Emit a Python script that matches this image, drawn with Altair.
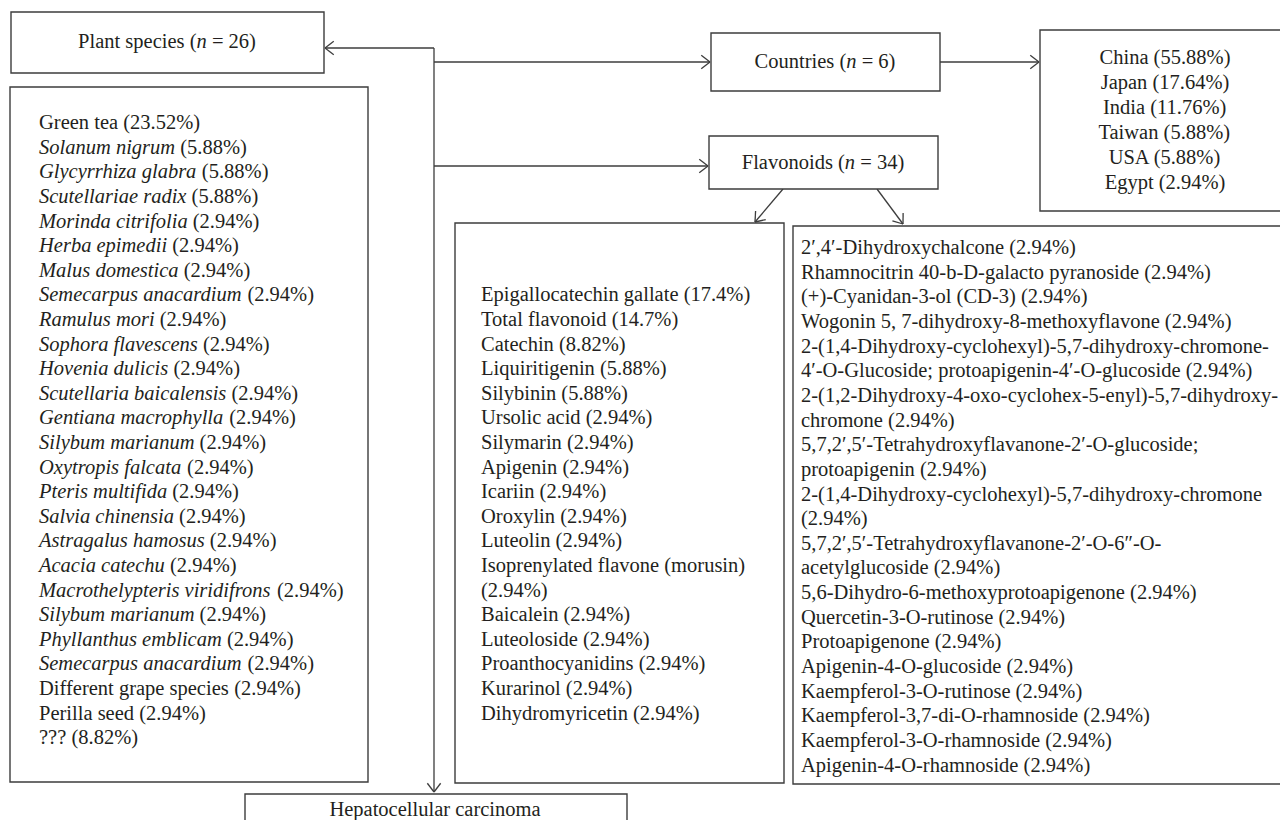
import math
import altair as alt
import pandas as pd

# ---------------- data ----------------
plant_names = ["Green tea", "Solanum nigrum", "Glycyrrhiza glabra", "Scutellariae radix",
               "Morinda citrifolia", "Herba epimedii", "Malus domestica", "Semecarpus anacardium",
               "Ramulus mori", "Sophora flavescens", "Hovenia dulicis", "Scutellaria baicalensis",
               "Gentiana macrophylla", "Silybum marianum", "Oxytropis falcata", "Pteris multifida",
               "Salvia chinensia", "Astragalus hamosus", "Acacia catechu",
               "Macrothelypteris viridifrons", "Silybum marianum", "Phyllanthus emblicam",
               "Semecarpus anacardium", "Different grape species", "Perilla seed", "???"]
plant_italic = [False] + [True] * 22 + [False, False, False]
plant_pct = ["23.52%", "5.88%", "5.88%", "5.88%"] + ["2.94%"] * 21 + ["8.82%"]

countries = ["China", "Japan", "India", "Taiwan", "USA", "Egypt"]
country_pct = ["55.88%", "17.64%", "11.76%", "5.88%", "5.88%", "2.94%"]

flav_main = ["Epigallocatechin gallate (17.4%)", "Total flavonoid (14.7%)", "Catechin (8.82%)",
             "Liquiritigenin (5.88%)", "Silybinin (5.88%)", "Ursolic acid (2.94%)",
             "Silymarin (2.94%)", "Apigenin (2.94%)", "Icariin (2.94%)", "Oroxylin (2.94%)",
             "Luteolin (2.94%)", "Isoprenylated flavone (morusin)", "(2.94%)",
             "Baicalein (2.94%)", "Luteoloside (2.94%)", "Proanthocyanidins (2.94%)",
             "Kurarinol (2.94%)", "Dihydromyricetin (2.94%)"]

flav_other = ["2\u2032,4\u2032-Dihydroxychalcone (2.94%)",
              "Rhamnocitrin 40-b-D-galacto pyranoside (2.94%)",
              "(+)-Cyanidan-3-ol (CD-3) (2.94%)",
              "Wogonin 5, 7-dihydroxy-8-methoxyflavone (2.94%)",
              "2-(1,4-Dihydroxy-cyclohexyl)-5,7-dihydroxy-chromone-",
              "4\u2032-O-Glucoside; protoapigenin-4\u2032-O-glucoside (2.94%)",
              "2-(1,2-Dihydroxy-4-oxo-cyclohex-5-enyl)-5,7-dihydroxy-",
              "chromone (2.94%)",
              "5,7,2\u2032,5\u2032-Tetrahydroxyflavanone-2\u2032-O-glucoside;",
              "protoapigenin (2.94%)",
              "2-(1,4-Dihydroxy-cyclohexyl)-5,7-dihydroxy-chromone",
              "(2.94%)",
              "5,7,2\u2032,5\u2032-Tetrahydroxyflavanone-2\u2032-O-6\u2033-O-",
              "acetylglucoside (2.94%)",
              "5,6-Dihydro-6-methoxyprotoapigenone (2.94%)",
              "Quercetin-3-O-rutinose (2.94%)",
              "Protoapigenone (2.94%)",
              "Apigenin-4-O-glucoside (2.94%)",
              "Kaempferol-3-O-rutinose (2.94%)",
              "Kaempferol-3,7-di-O-rhamnoside (2.94%)",
              "Kaempferol-3-O-rhamnoside (2.94%)",
              "Apigenin-4-O-rhamnoside (2.94%)"]

# header labels: (pieces as (text, italic))
hdr_plant = [("Plant species (", False), ("n", True), (" = 26)", False)]
hdr_country = [("Countries (", False), ("n", True), (" = 6)", False)]
hdr_flav = [("Flavonoids (", False), ("n", True), (" = 34)", False)]
hdr_hcc = [("Hepatocellular carcinoma", False)]

# ---------------- layout (reference pixel space) ----------------
FS = 20.5
FONT = "Liberation Serif"
INK = "#231f20"
LINE = "#3d3d3d"

boxes = {
    "plant_hdr": (11, 12, 324, 73),
    "plant_list": (10, 87, 368, 782),
    "countries": (711, 33, 940, 91),
    "country_list": (1040, 30, 1310, 211),
    "flav": (709, 136, 938, 189),
    "flav_main": (455, 223, 784, 783),
    "flav_other": (793, 226, 1310, 784),
    "hcc": (245, 794, 627, 860),
}

# approximate Times metrics (per 1000 em) for laying out mixed-style runs
ROMAN = dict(zip(" !\"#$%&'()*+,-./0123456789:;<=>?@",
                 [250, 333, 408, 500, 500, 833, 778, 333, 333, 333, 500, 564, 250, 333, 250, 278,
                  500, 500, 500, 500, 500, 500, 500, 500, 500, 500, 278, 278, 564, 564, 564, 444, 921]))
ROMAN.update(dict(zip("ABCDEFGHIJKLMNOPQRSTUVWXYZ",
                      [722, 667, 667, 722, 611, 556, 722, 722, 333, 389, 722, 611, 889, 722, 722, 556,
                       722, 667, 556, 611, 722, 722, 944, 722, 722, 611])))
ROMAN.update(dict(zip("abcdefghijklmnopqrstuvwxyz",
                      [444, 500, 444, 500, 444, 333, 500, 500, 278, 278, 500, 278, 778, 500, 500, 500,
                       500, 333, 389, 278, 500, 500, 722, 500, 500, 444])))
ITALIC = dict(ROMAN)
ITALIC.update(dict(zip("ABCDEFGHIJKLMNOPQRSTUVWXYZ",
                       [611, 611, 667, 722, 611, 611, 722, 722, 333, 444, 667, 556, 833, 667, 722, 611,
                        722, 611, 500, 556, 722, 611, 833, 611, 556, 556])))
ITALIC.update(dict(zip("abcdefghijklmnopqrstuvwxyz",
                       [500, 500, 444, 500, 444, 278, 500, 500, 278, 278, 444, 278, 722, 500, 500, 500,
                        500, 389, 389, 278, 500, 444, 667, 444, 444, 389])))


def tw(s, italic, fs):
    t = ITALIC if italic else ROMAN
    return sum(t.get(c, 500) for c in s) / 1000.0 * fs


texts = []


def add_run(pieces, x, y, align="left", fs=FS):
    total = sum(tw(p, it, fs) for p, it in pieces)
    cx = x - total / 2 if align == "center" else x
    for p, it in pieces:
        lead = len(p) - len(p.lstrip(" "))
        trail = len(p) - len(p.rstrip(" "))
        core = p.strip(" ")
        cx += lead * tw(" ", it, fs)
        texts.append({"x": cx, "y": y, "t": core,
                      "style": "italic" if it else "normal", "fs": fs})
        cx += tw(core, it, fs) + trail * tw(" ", it, fs)


add_run(hdr_plant, 167, 42, "center")
add_run(hdr_country, 825, 62, "center")
add_run(hdr_flav, 823, 163, "center")
add_run(hdr_hcc, 435, 810, "center")

for i, (c, p) in enumerate(zip(countries, country_pct)):
    add_run([(f"{c} ({p})", False)], 1165, 58 + 24.9 * i, "center")

STEP = 24.6
for i, (n, it, p) in enumerate(zip(plant_names, plant_italic, plant_pct)):
    add_run([(n, it), (f" ({p})", False)], 39, 566 + STEP * (i - 18))

for i, s in enumerate(flav_main):
    add_run([(s, False)], 481, 566 + STEP * (i - 11))

for i, s in enumerate(flav_other):
    add_run([(s, False)], 801, 248 + 24.65 * i, fs=20.5)

# connector lines and arrow tips
segments = [
    ((434, 48), (325, 48), True),
    ((434, 48), (434, 792), True),
    ((434, 62), (710, 62), True),
    ((434, 166), (708, 166), True),
    ((940, 62), (1039, 62), True),
    ((783, 189), (755, 222), True),
    ((877, 189), (903, 224), True),
]
segs = []
for (x1, y1), (x2, y2), head in segments:
    segs.append({"x": x1, "y": y1, "x2": x2, "y2": y2})
    if head:
        ang = math.atan2(y1 - y2, x1 - x2)
        for d in (-0.65, 0.65):
            segs.append({"x": x2, "y": y2,
                         "x2": x2 + 11 * math.cos(ang + d),
                         "y2": y2 + 11 * math.sin(ang + d)})

box_df = pd.DataFrame([{"name": k, "x": v[0], "y": v[1], "x2": v[2], "y2": v[3]}
                       for k, v in boxes.items()])
seg_df = pd.DataFrame(segs)
txt_df = pd.DataFrame(texts)

W, H = 1272, 812
xs = alt.Scale(domain=[8, 8 + W], nice=False, zero=False)
ys = alt.Scale(domain=[8, 8 + H], nice=False, zero=False, reverse=True)

rects = alt.Chart(box_df).mark_rect(fill="white", stroke=LINE, strokeWidth=1.4, clip=True).encode(
    x=alt.X("x:Q", scale=xs, axis=None), x2="x2:Q",
    y=alt.Y("y:Q", scale=ys, axis=None), y2="y2:Q")

rules = alt.Chart(seg_df).mark_rule(color=LINE, strokeWidth=1.3).encode(
    x=alt.X("x:Q", scale=xs, axis=None), x2="x2:Q",
    y=alt.Y("y:Q", scale=ys, axis=None), y2="y2:Q")

base_txt = alt.Chart(txt_df).encode(
    x=alt.X("x:Q", scale=xs, axis=None),
    y=alt.Y("y:Q", scale=ys, axis=None),
    text="t:N",
    size=alt.Size("fs:Q", scale=None, legend=None))
roman = base_txt.transform_filter(alt.datum.style == "normal").mark_text(
    font=FONT, color=INK, align="left", baseline="middle", clip=True)
italic = base_txt.transform_filter(alt.datum.style == "italic").mark_text(
    font=FONT, fontStyle="italic", color=INK, align="left", baseline="middle", clip=True)

chart = alt.layer(rules, rects, roman, italic).properties(
    width=W, height=H, padding=0, background="white",
    autosize=alt.AutoSizeParams(type="none")
).configure_view(stroke=None)

chart.save("out.html", embed_options={"renderer": "svg", "actions": False})
